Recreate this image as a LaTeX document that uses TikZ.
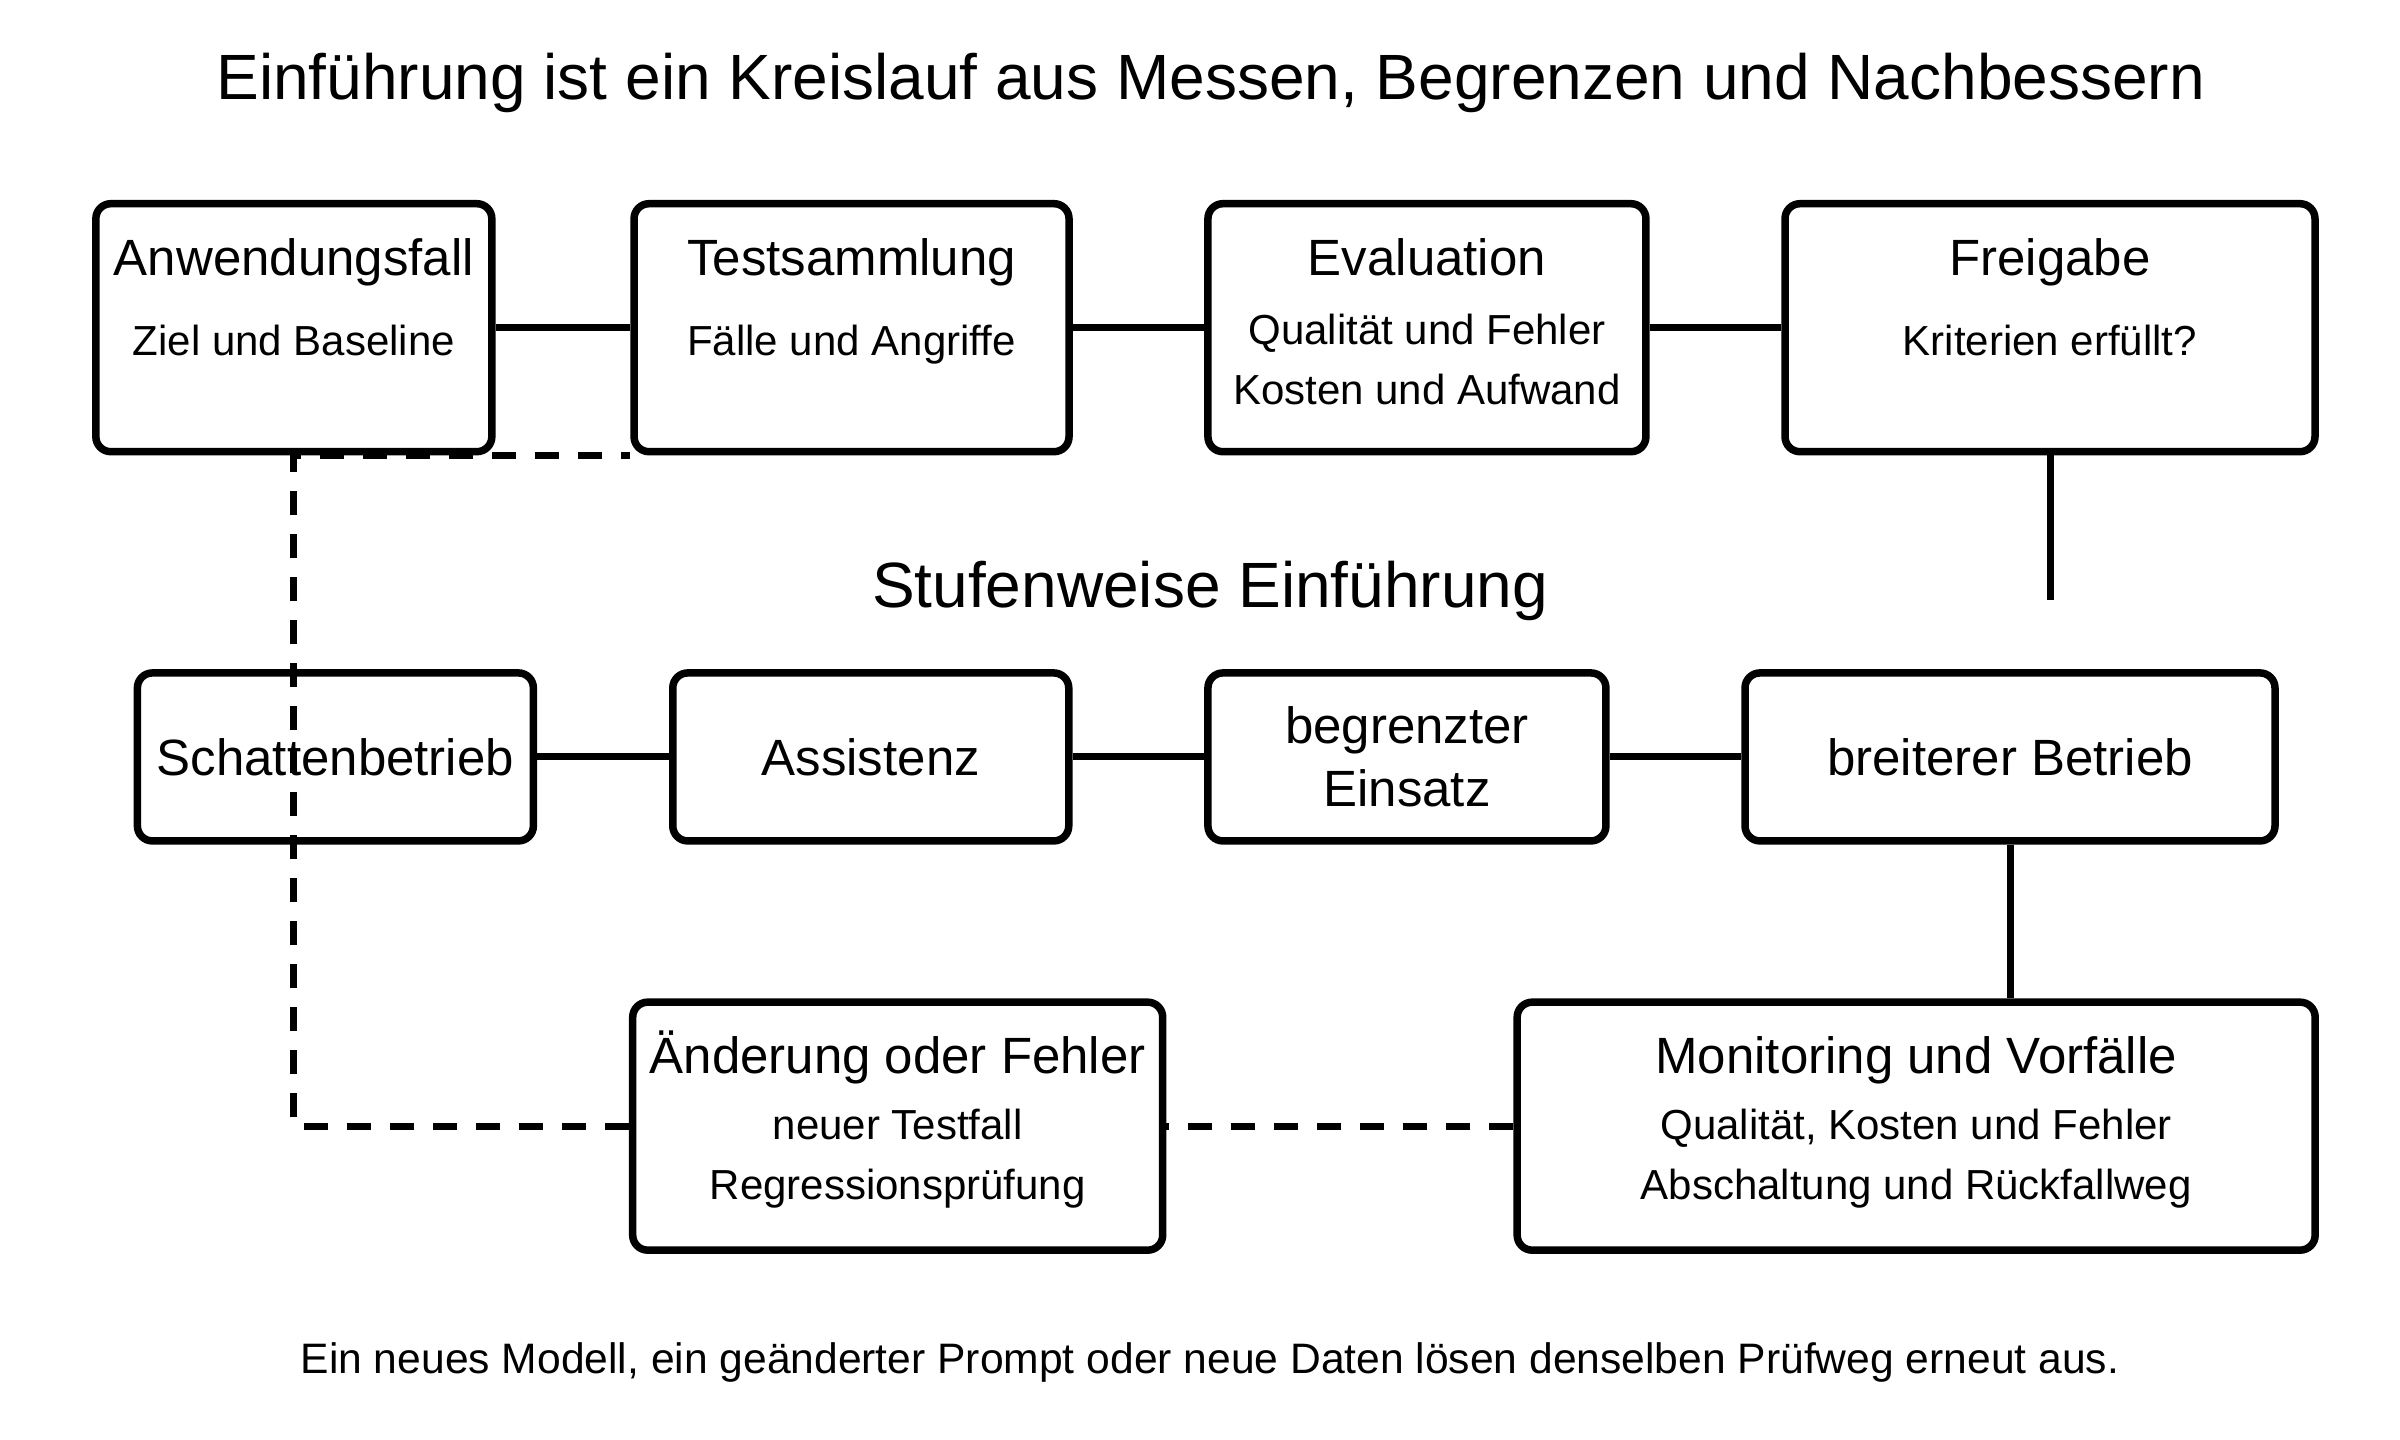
\documentclass[tikz,border=0pt]{standalone}
\usepackage{fontspec}
\setmainfont{Liberation Sans}
\usetikzlibrary{calc}

\begin{document}
\begin{tikzpicture}[x=1.5385pt, y=-1.5385pt,
        card/.style={draw, fill=white, line width=7.5pt, rounded corners=15pt, minimum height=248pt},
        stage/.style={card, minimum height=168pt, align=center, font=\fontsize{51}{63}\selectfont},
        head/.style={anchor=base, font=\fontsize{51}{61}\selectfont},
        sub/.style={align=center, font=\fontsize{42}{60}\selectfont},
        link/.style={line width=7pt},
        back/.style={line width=7pt, dash pattern=on 24pt off 19pt}]
            \useasboundingbox (0,0) rectangle (1560,936);
            \node (title) [anchor=base, font=\fontsize{64}{77}\selectfont] at (787,65) {Einführung ist ein Kreislauf aus Messen, Begrenzen und Nachbessern};
            % Kreislauf
            \node (anw) [card, minimum width=396pt] at (191,213) {};
            \node (test) [card, minimum width=435pt] at (553.5,213) {};
            \node (eval) [card, minimum width=438pt] at (927.5,213) {};
            \node (frei) [card, minimum width=530pt] at (1332.5,213) {};
            \node (anw-h) [head] at ($(anw.north)+(0,49)$) {Anwendungsfall};
            \node (anw-s) [sub, anchor=base] at ($(anw.north)+(0,101)$) {Ziel und Baseline};
            \node (test-h) [head] at ($(test.north)+(0,49)$) {Testsammlung};
            \node (test-s) [sub, anchor=base] at ($(test.north)+(0,101)$) {Fälle und Angriffe};
            \node (eval-h) [head] at ($(eval.north)+(0,49)$) {Evaluation};
            \node (eval-s) [sub] at ($(eval.north)+(0,104)$) {Qualität und Fehler\\Kosten und Aufwand};
            \node (frei-h) [head] at ($(frei.north)+(0,49)$) {Freigabe};
            \node (frei-s) [sub, anchor=base] at ($(frei.north)+(0,101)$) {Kriterien erfüllt?};
            \draw[link] (anw) -- (test);
            \draw[link] (test) -- (eval);
            \draw[link] (eval) -- (frei);
            \coordinate (stub) at (1332.5,390);
            \draw[link] (frei.south) -- (stub);
            % Stufen
            \node (stufen) [anchor=base, font=\fontsize{64}{77}\selectfont] at (786.5,395) {Stufenweise Einführung};
            \node (schat) [stage, minimum width=396pt] at (218,492) {Schattenbetrieb};
            \node (assi) [stage, minimum width=396pt] at (566,492) {Assistenz};
            \node (begr) [stage, minimum width=398pt] at (914.5,492) {begrenzter\\Einsatz};
            \node (breit) [stage, minimum width=530pt] at (1306.5,492) {breiterer Betrieb};
            \draw[link] (schat) -- (assi);
            \draw[link] (assi) -- (begr);
            \draw[link] (begr) -- (breit);
            % Betrieb und Rueckweg
            \node (aend) [card, minimum width=530pt] at (583.5,732) {};
            \node (moni) [card, minimum width=798pt] at (1245.5,732) {};
            \node (aend-h) [head] at ($(aend.north)+(0,49)$) {Änderung oder Fehler};
            \node (aend-s) [sub] at ($(aend.north)+(0,104)$) {neuer Testfall\\Regressionsprüfung};
            \node (moni-h) [head] at ($(moni.north)+(0,49)$) {Monitoring und Vorfälle};
            \node (moni-s) [sub] at ($(moni.north)+(0,104)$) {Qualität, Kosten und Fehler\\Abschaltung und Rückfallweg};
            \draw[link] (breit.south) -- (breit.south |- moni.north);
            \draw[back] (moni.west) -- (aend.east);
            \draw[back] (aend.west) -| (anw.south) -- (test.south west);
            \node (note) [anchor=base, font=\fontsize{42.6}{50}\selectfont] at (786.5,893) {Ein neues Modell, ein geänderter Prompt oder neue Daten lösen denselben Prüfweg erneut aus.};
        \end{tikzpicture}
\end{document}
